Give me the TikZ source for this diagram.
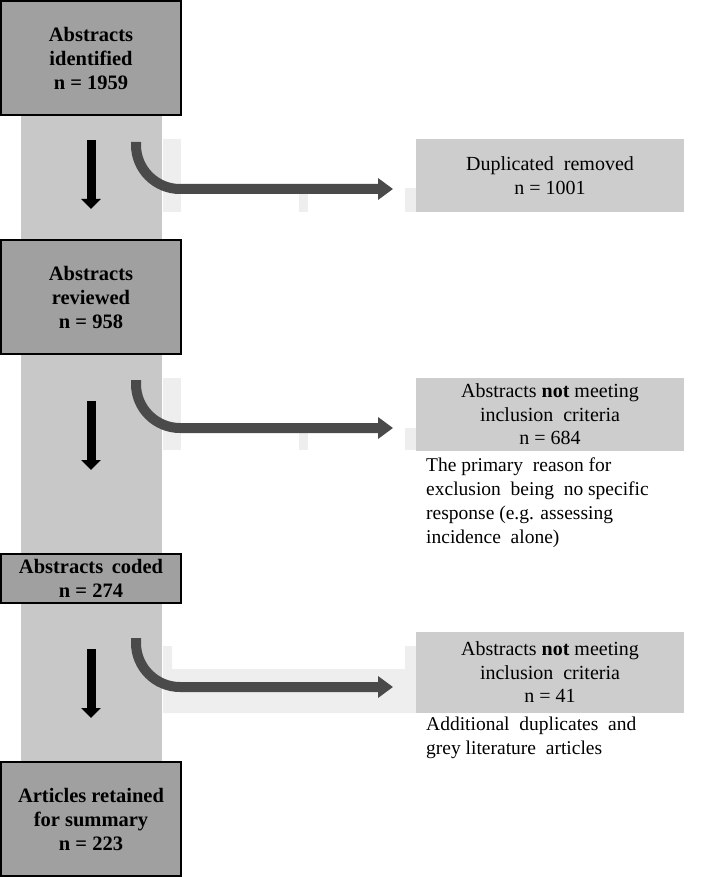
\documentclass[tikz,border=0pt]{standalone}
\usepackage{fontspec}
\setmainfont{Liberation Serif}
\usetikzlibrary{arrows.meta}
\definecolor{darkbox}{HTML}{A0A0A0}
\definecolor{colgray}{HTML}{C8C8C8}
\definecolor{sidegray}{HTML}{CDCDCD}
\definecolor{faint}{HTML}{EEEEEE}
\definecolor{arrowgray}{HTML}{4A4A4A}
\tikzset{
  mainbox/.style={draw=black, line width=1.2pt, fill=darkbox, minimum width=180pt, align=center, inner sep=0pt, font=\bfseries\fontsize{20.5}{24}\selectfont},
  sidebox/.style={fill=sidegray, minimum width=268pt, align=center, inner sep=0pt, font=\fontsize{20}{23.5}\selectfont},
  notetext/.style={anchor=north west, align=left, inner sep=0pt, font=\fontsize{19.5}{24}\selectfont},
  downarrow/.style={line width=9pt, draw=black, -{Triangle[length=10pt,width=19pt]}},
  bendarrow/.style={line width=10pt, draw=arrowgray, rounded corners=44pt, -{Triangle[length=15pt,width=21pt]}},
  faintfill/.style={fill=faint}
}
\begin{document}
\begin{tikzpicture}[x=1pt,y=-1pt]
\useasboundingbox (0,0) rectangle (709,877);
% faint background shapes
\fill[faintfill] (163,139) rectangle (181,212);
\fill[faintfill] (299,192) rectangle (308,212);
\fill[faintfill] (405,188) rectangle (416,212);
\fill[faintfill] (163,378) rectangle (181,450);
\fill[faintfill] (299,433) rectangle (308,450);
\fill[faintfill] (405,428) rectangle (416,450);
\fill[faintfill] (163,646) -- (172,646) -- (172,669) -- (405,669) -- (405,646) -- (416,646) -- (416,713) -- (163,713) -- cycle;
% column
\fill[colgray] (21,115) rectangle (162,762);
% main boxes
\node[mainbox, minimum height=114pt] (b1) at (91,58) {Abstracts\\identified\\n = 1959};
\node[mainbox, minimum height=114pt] (b2) at (91,297) {Abstracts\\reviewed\\n = 958};
\node[mainbox, minimum height=49pt] (b3) at (91,578.5) {Abstracts\, coded\\n = 274};
\node[mainbox, minimum height=114pt] (b4) at (91,819) {Articles retained\\for summary\\n = 223};
% side boxes
\node[sidebox, minimum height=73pt] (r1) at (550,175.5) {Duplicated\ \ removed\\n = 1001};
\node[sidebox, minimum height=73pt] (r2) at (550,414.5) {Abstracts \textbf{not} meeting\\inclusion\ \ criteria\\n = 684};
\node[sidebox, minimum height=81pt] (r3) at (550,672.5) {Abstracts \textbf{not} meeting\\inclusion\ \ criteria\\n = 41};
\node[notetext] (n2) at (426,458) {The primary\ \ reason for\\exclusion\ \ being\ \ no specific\\response (e.g. assessing\\incidence\ \ alone)};
\node[notetext] (n3) at (426,717) {Additional\ \ duplicates\ \ and\\grey literature\ \ articles};
% down arrows
\coordinate (d1s) at (91,140); \coordinate (d1e) at (91,209);
\coordinate (d2s) at (91,401); \coordinate (d2e) at (91,470);
\coordinate (d3s) at (91,649); \coordinate (d3e) at (91,718);
\draw[downarrow] (d1s) -- (d1e);
\draw[downarrow] (d2s) -- (d2e);
\draw[downarrow] (d3s) -- (d3e);
% bent arrows
\coordinate (c1s) at (136,142); \coordinate (c1e) at (393,189);
\coordinate (c2s) at (136,380); \coordinate (c2e) at (393,428);
\coordinate (c3s) at (136,638); \coordinate (c3e) at (393,687);
\draw[bendarrow] (c1s) |- (c1e);
\draw[bendarrow] (c2s) |- (c2e);
\draw[bendarrow] (c3s) |- (c3e);
\end{tikzpicture}
\end{document}
